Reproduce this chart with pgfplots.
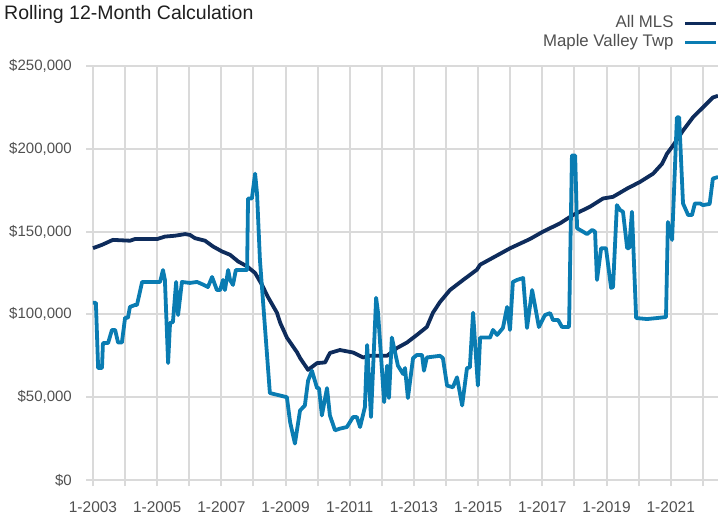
\documentclass[border=0pt]{standalone}
\usepackage{fontspec}
\setmainfont{Liberation Sans}
\usepackage{pgfplots}
\pgfplotsset{compat=1.18}
\definecolor{mlsdark}{RGB}{14,44,92}
\definecolor{mvlight}{RGB}{10,124,178}
\definecolor{gridgray}{RGB}{218,218,218}
\definecolor{labgray}{RGB}{80,80,80}
\begin{document}
\begin{tikzpicture}
\path[use as bounding box] (0,0) rectangle (718pt,515pt);
\node[anchor=base west, inner sep=0pt, text=black!88, font=\fontsize{19.5}{22}\selectfont] at (4pt,495.7pt) {Rolling 12-Month Calculation};
\begin{axis}[
  at={(86pt,35pt)}, anchor=south west,
  scale only axis, width=632pt, height=414pt,
  xmin=2002.782, xmax=2022.47,
  ymin=0, ymax=250,
  axis line style={draw=none},
  xtick={2003,2004,...,2022},
  xticklabels={1-2003,,1-2005,,1-2007,,1-2009,,1-2011,,1-2013,,1-2015,,1-2017,,1-2019,,1-2021,},
  ytick={0,50,100,150,200,250},
  yticklabels={\$0,\$50{,}000,\$100{,}000,\$150{,}000,\$200{,}000,\$250{,}000},
  xtick pos=bottom, ytick pos=left,
  tick align=outside,
  major tick length=6pt,
  xtick style={draw=gridgray, line width=2pt},
  ytick style={draw=none},
  grid=major,
  major grid style={draw=gridgray, line width=2pt},
  xticklabel style={inner sep=0pt, yshift=-15pt, text=labgray, font=\fontsize{15.5}{18}\selectfont},
  yticklabel style={inner sep=0pt, anchor=east, xshift=-8pt, text=labgray, font=\fontsize{15}{18}\selectfont},
  legend cell align=right,
  legend plot pos=right,
  legend image code/.code={\draw[#1, line width=3.5pt] (0pt,0pt) -- (31pt,0pt);},
  legend style={draw=none, fill=none, at={(1,1)}, anchor=north east, yshift=50.5pt,
    inner sep=0pt, outer sep=0pt, row sep=3pt, column sep=10pt,
    font=\fontsize{16.8}{19}\selectfont, text=labgray,
    nodes={inner sep=0pt, text height=12pt, text depth=4pt}},
]
\addplot[mlsdark, line width=3.8pt, line join=round] coordinates {
(2003.00,140) (2003.28,142) (2003.62,145) (2004.15,144.5) (2004.31,145.5)
(2005.00,145.5) (2005.24,147) (2005.55,147.5) (2005.87,148.5) (2006.02,148)
(2006.18,146) (2006.49,144.5) (2006.74,141) (2007.02,138) (2007.27,136)
(2007.52,132) (2007.80,129) (2008.05,125) (2008.26,118) (2008.45,110.5)
(2008.73,101) (2008.83,95) (2009.04,86) (2009.36,77) (2009.45,73.7)
(2009.70,66.5) (2009.98,70.6) (2010.23,71) (2010.38,76.7) (2010.69,78.5)
(2011.10,77) (2011.41,74) (2011.63,75) (2012.16,75) (2012.47,79.7)
(2012.78,83) (2013.09,87.6) (2013.40,92.4) (2013.59,101) (2013.81,107.5)
(2014.12,114.7) (2014.53,120.8) (2014.96,127) (2015.06,130) (2016.00,140)
(2016.61,145.5) (2017.02,150) (2017.55,155) (2017.95,160) (2018.48,165)
(2018.89,170) (2019.20,171) (2019.64,176) (2020.04,180) (2020.45,185)
(2020.73,191) (2020.88,197) (2021.07,202) (2021.38,211) (2021.69,219)
(2022.00,225) (2022.31,231) (2022.47,232)
};
\addlegendentry{All MLS}
\addplot[mvlight, line width=3.8pt, line join=round] coordinates {
(2003.00,107) (2003.09,107) (2003.16,67.6) (2003.28,67.6) (2003.31,82.7)
(2003.47,82.7) (2003.59,90.6) (2003.69,90.6) (2003.78,83) (2003.90,83)
(2004.00,98) (2004.09,98) (2004.15,104.5) (2004.31,105.7) (2004.37,105.7)
(2004.53,119.6) (2005.09,119.6) (2005.18,126.8) (2005.24,120.8) (2005.34,70.6)
(2005.40,94.8) (2005.49,95.4) (2005.59,119.6) (2005.65,99.6) (2005.77,119.6)
(2006.02,119) (2006.24,119.6) (2006.43,118) (2006.58,116.5) (2006.71,122.6)
(2006.86,114.7) (2006.96,114.7) (2007.05,120.8) (2007.11,114.7) (2007.21,126.8)
(2007.27,120.8) (2007.36,117.8) (2007.45,126.8) (2007.80,126.8) (2007.83,170)
(2007.95,170) (2008.05,185) (2008.11,173) (2008.20,133) (2008.51,52.5)
(2008.83,51) (2009.04,50) (2009.14,35) (2009.29,22) (2009.45,42)
(2009.60,45) (2009.70,60) (2009.82,66) (2009.98,55.5) (2010.04,55.5)
(2010.13,39) (2010.29,55.5) (2010.38,39) (2010.54,30) (2010.69,31)
(2010.91,32) (2011.10,38) (2011.22,38) (2011.32,32) (2011.47,44)
(2011.54,81.5) (2011.66,38) (2011.82,110) (2011.88,101) (2012.07,47)
(2012.16,69) (2012.22,49.5) (2012.31,86) (2012.50,69) (2012.66,64)
(2012.72,67.6) (2012.81,49.5) (2012.97,73.6) (2013.09,75.5) (2013.25,75.5)
(2013.31,66) (2013.40,74) (2013.81,75) (2013.90,73.6) (2014.03,57)
(2014.21,56) (2014.34,62) (2014.50,45) (2014.65,67.6) (2014.74,68)
(2014.84,101) (2014.99,57) (2015.06,86) (2015.37,86) (2015.46,90.6)
(2015.59,87.6) (2015.77,91.8) (2015.90,104.5) (2015.99,90.6) (2016.08,119.6)
(2016.21,120.8) (2016.40,122) (2016.52,91.8) (2016.68,114.7) (2016.89,92.4)
(2017.08,99.6) (2017.24,100.8) (2017.33,96.6) (2017.49,96.6) (2017.61,92.4)
(2017.83,92.4) (2017.92,196) (2018.02,196) (2018.08,152) (2018.26,150)
(2018.39,148.5) (2018.55,151) (2018.64,150) (2018.70,120.8) (2018.83,140)
(2018.98,140) (2019.14,116) (2019.20,116.5) (2019.32,166) (2019.42,163)
(2019.51,162) (2019.64,140) (2019.70,140) (2019.79,162) (2019.92,97.8)
(2020.26,97.2) (2020.57,97.8) (2020.85,98.4) (2020.91,155.8) (2021.04,145)
(2021.19,219) (2021.26,219) (2021.38,167) (2021.54,160) (2021.66,160)
(2021.75,167) (2021.91,167) (2022.00,166) (2022.21,166.7) (2022.31,182)
(2022.47,183)
};
\addlegendentry{Maple Valley Twp}
\end{axis}
\end{tikzpicture}
\end{document}
